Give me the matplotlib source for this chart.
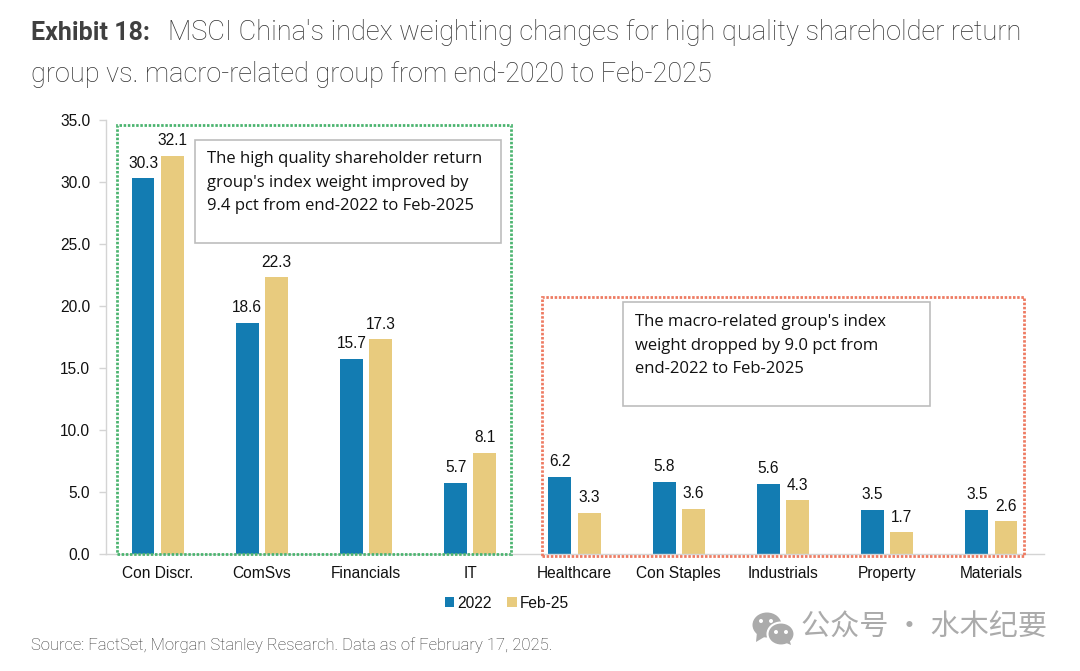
import matplotlib
matplotlib.use('Agg')
import matplotlib.pyplot as plt
from matplotlib.patches import Rectangle, Ellipse, Polygon
import numpy as np

categories = ['Con Discr.', 'ComSvs', 'Financials', 'IT', 'Healthcare',
              'Con Staples', 'Industrials', 'Property', 'Materials']
values_2022 = [30.3, 18.6, 15.7, 5.7, 6.2, 5.8, 5.6, 3.5, 3.5]
values_feb25 = [32.1, 22.3, 17.3, 8.1, 3.3, 3.6, 4.3, 1.7, 2.6]
y_ticks = [0, 5, 10, 15, 20, 25, 30, 35]

W, H = 1080, 671
BLUE = '#137CB2'
SAND = '#E8CB7E'
GRID = '#D4D4D4'
LABEL_SIZE = 11.2


def fx(px):
    return px / W


def fy(py):
    return 1 - py / H


fig = plt.figure(figsize=(W / 100, H / 100), dpi=100, facecolor='white')
ax = fig.add_axes([fx(105.5), fy(553.5), fx(938), (553.5 - 120) / H])

x = np.arange(len(categories))
ax.bar(x - 0.14, values_2022, 0.22, color=BLUE, label='2022')
ax.bar(x + 0.14, values_feb25, 0.22, color=SAND, label='Feb-25')

for xi, v in zip(x, values_2022):
    ax.text(xi - 0.14, v + 0.62, f'{v:.1f}', ha='center', va='bottom',
            fontsize=LABEL_SIZE, family='Liberation Sans', color='#111111')
for xi, v in zip(x, values_feb25):
    ax.text(xi + 0.14, v + 0.62, f'{v:.1f}', ha='center', va='bottom',
            fontsize=LABEL_SIZE, family='Liberation Sans', color='#111111')

ax.set_xlim(-0.5, 8.5)
ax.set_ylim(0, 35)
ax.set_yticks(y_ticks)
ax.set_yticklabels([f'{t:.1f}' for t in y_ticks], family='Liberation Sans',
                   fontsize=LABEL_SIZE, color='#111111')
ax.set_xticks(x)
ax.set_xticklabels(categories, family='Liberation Sans', fontsize=LABEL_SIZE, color='#111111')
ax.tick_params(axis='x', length=0, pad=9)
ax.tick_params(axis='y', length=5, width=1, color=GRID, pad=6)
for side in ['top', 'right']:
    ax.spines[side].set_visible(False)
for side in ['left', 'bottom']:
    ax.spines[side].set_color(GRID)
    ax.spines[side].set_linewidth(1)

# legend
leg = fig.legend(loc='center', bbox_to_anchor=(fx(507), fy(603)), ncol=2, frameon=False,
                 prop={'family': 'Liberation Sans', 'size': LABEL_SIZE},
                 handlelength=0.6, handleheight=0.6, handletextpad=0.2, columnspacing=1.0)
for t in leg.get_texts():
    t.set_color('#111111')


def pixel_box(left, top, right, bottom, **kw):
    r = Rectangle((fx(left), fy(bottom)), fx(right - left), (bottom - top) / H,
                  transform=fig.transFigure, fill=False, **kw)
    fig.add_artist(r)


# dotted group frames
pixel_box(117, 125, 511, 554, edgecolor='#4CB470', linewidth=2, linestyle=(0, (0.9, 0.6)))
pixel_box(542, 297, 1024, 556, edgecolor='#EE7B62', linewidth=2, linestyle=(0, (0.9, 0.6)))

# note boxes
pixel_box(195, 140, 501, 243, edgecolor='#BDBDBD', linewidth=1.2)
pixel_box(623, 302, 930, 406, edgecolor='#BDBDBD', linewidth=1.2)

note_a = ['The high quality shareholder return',
          "group's index weight improved by",
          '9.4 pct from end-2022 to Feb-2025']
note_b = ["The macro-related group's index",
          'weight dropped by 9.0 pct from',
          'end-2022 to Feb-2025']
for i, line in enumerate(note_a):
    fig.text(fx(207), fy(159 + i * 23.5), line, family='Open Sans', fontsize=12,
             va='center', color='#111111')
for i, line in enumerate(note_b):
    fig.text(fx(635), fy(322 + i * 23.5), line, family='Open Sans', fontsize=12,
             va='center', color='#111111')

# heading
fig.text(fx(31), fy(33), 'Exhibit 18:', family='Roboto', weight='bold', fontsize=18,
         va='center', color='#404040')
fig.text(fx(168), fy(33), "MSCI China's index weighting changes for high quality shareholder return",
         family='Roboto', weight='light', fontsize=19.65, va='center', color='#333333')
fig.text(fx(31), fy(74), 'group vs. macro-related group from end-2020 to Feb-2025',
         family='Roboto', weight='light', fontsize=19.5, va='center', color='#333333')

fig.text(fx(31), fy(645), 'Source: FactSet, Morgan Stanley Research. Data as of February 17, 2025.',
         family='Roboto', weight='light', fontsize=11.95, va='center', color='#333333')

# watermark
gray = '#ABABAB'
fig.add_artist(Ellipse((fx(767), fy(625)), 29 / W, 25 / H, transform=fig.transFigure,
                       facecolor=gray, edgecolor='none'))
fig.add_artist(Polygon([[fx(757), fy(632)], [fx(756), fy(642)], [fx(766), fy(636)]],
                       transform=fig.transFigure, facecolor=gray, edgecolor='none'))
fig.add_artist(Ellipse((fx(781), fy(634)), 27 / W, 23 / H, transform=fig.transFigure,
                       facecolor=gray, edgecolor='white', linewidth=1.5))
fig.add_artist(Polygon([[fx(784), fy(642)], [fx(791), fy(645)], [fx(789), fy(638)]],
                       transform=fig.transFigure, facecolor=gray, edgecolor='none'))
for ex, ey in [(761, 621), (771, 621), (776, 632), (786, 632)]:
    fig.add_artist(Ellipse((fx(ex), fy(ey)), 4 / W, 4 / H, transform=fig.transFigure,
                           facecolor='white', edgecolor='none'))
fig.text(fx(801), fy(628), '公众号 · 水木纪要', family=['Noto Sans CJK SC', 'DejaVu Sans'],
         fontsize=21, va='center', color=gray)

fig.savefig('out.png', dpi=100)
